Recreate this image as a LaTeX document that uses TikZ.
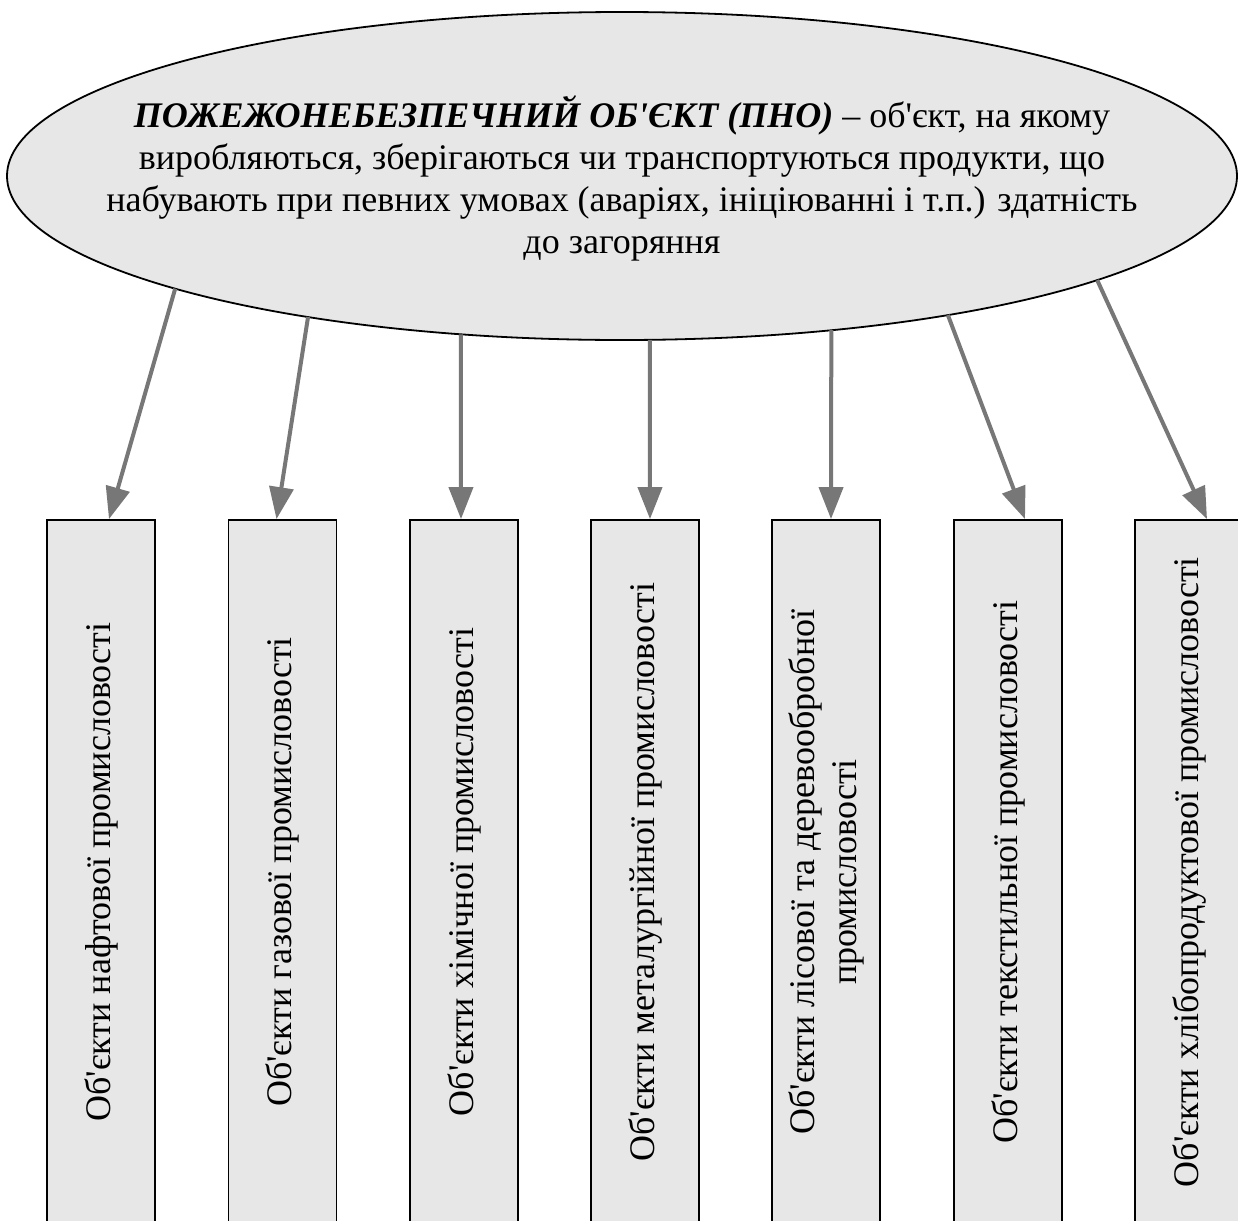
\documentclass[tikz,border=0pt]{standalone}
\usepackage{fontspec}
\setmainfont{Liberation Serif}
\usetikzlibrary{shapes.geometric,arrows.meta}
\definecolor{boxgray}{HTML}{E7E7E7}
\definecolor{arrowgray}{HTML}{777777}
\newcommand{\ap}{\textquotesingle}
\tikzset{
  objbox/.style={draw, line width=0.9pt, fill=boxgray, minimum width=54pt,
    minimum height=352pt, inner sep=0pt},
  objtext/.style={rotate=90, align=center, font=\rmfamily\fontsize{18}{21}\selectfont},
  linkarrow/.style={draw=arrowgray, line width=2pt,
    -{Triangle[length=16pt,width=12pt]}}
}
\begin{document}
\begin{tikzpicture}[x=0.5pt, y=0.5pt]
  \useasboundingbox (0,0) rectangle (1238,-1221);
  % main definition
  \node[ellipse, draw, line width=0.9pt, fill=boxgray, minimum width=615pt,
    minimum height=164pt, inner sep=0pt] (pno) at (622,-176) {};
  \node[align=center, font=\rmfamily\fontsize{18}{21}\selectfont] (pnotext) at (622,-178)
    {\textbf{\textit{ПОЖЕЖОНЕБЕЗПЕЧНИЙ ОБ\ap ЄКТ (ПНО)}} – об\ap єкт, на якому\\
     виробляються, зберігаються чи транспортуються продукти, що\\
     набувають при певних умовах (аваріях, ініціюванні і т.п.) здатність\\
     до загоряння};
  % kinds of objects
  \foreach \i/\x/\txt in {1/101/нафтової промисловості,
                          2/282.5/газової промисловості,
                          3/464/хімічної промисловості,
                          4/645/металургійної промисловості,
                          5/826/лісової та деревообробної\\промисловості,
                          6/1008/текстильної промисловості,
                          7/1189/хлібопродуктової промисловості}{
    \node[objbox] (b\i) at (\x,-872) {};
    \node[objtext] (t\i) at (b\i) {Об\ap єкти \txt};
  }
  % start points on the ellipse
  \foreach \i/\t in {1/223.4, 2/239.3, 3/254.8, 4/272.6, 5/289.9, 6/302, 7/320.6}
    \coordinate (s\i) at ([shift={(pno.center)}]\t:615 and 164);
  \foreach \i/\dx in {1/4pt, 2/-3pt, 3/-1.5pt, 4/2.5pt, 5/2.5pt, 6/8.5pt, 7/9pt}
    \draw[linkarrow] (s\i) -- ([xshift=\dx]b\i.north);
\end{tikzpicture}
\end{document}
